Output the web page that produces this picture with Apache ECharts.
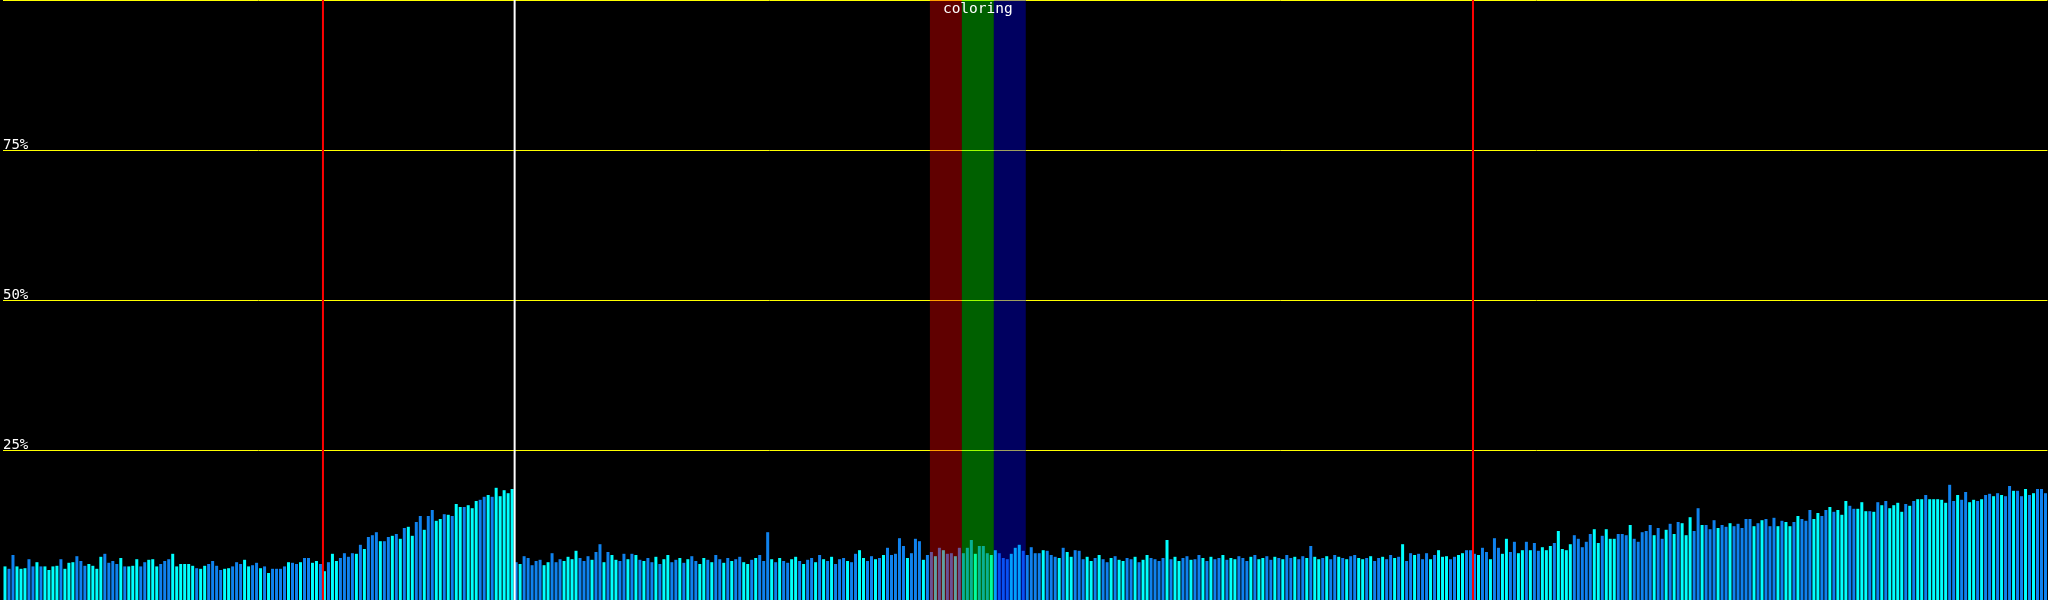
<!DOCTYPE html>
<html><head><meta charset="utf-8">
<script src="https://cdn.jsdelivr.net/npm/echarts@6/dist/echarts.min.js"></script>
<style>html,body{margin:0;padding:0;background:#000;overflow:hidden}#c{width:2048px;height:600px}</style>
</head><body><div id="c"></div>
<script>
// bar values (percent), 512 samples, 10 per row
const valueRows = [
  [5.6,5.2,7.5,5.6,5.2,5.3,6.8,5.6,6.3,5.6],
  [5.6,5.0,5.6,5.7,6.8,5.2,6.2,6.3,7.3,6.5],
  [5.7,6.0,5.7,5.2,7.2,7.7,6.2,6.5,6.0,7.0],
  [5.6,5.6,5.7,6.8,5.6,6.3,6.7,6.8,5.6,6.0],
  [6.5,6.8,7.7,5.6,6.0,6.0,6.0,5.7,5.3,5.2],
  [5.7,6.0,6.5,5.7,5.0,5.2,5.3,5.6,6.3,6.0],
  [6.7,5.6,5.8,6.2,5.3,5.6,4.5,5.2,5.2,5.2],
  [5.6,6.3,6.2,6.0,6.3,7.0,7.0,6.2,6.5,6.0],
  [4.8,6.3,7.7,6.5,7.0,7.8,7.2,7.8,7.7,9.2],
  [8.5,10.5,10.8,11.3,9.8,9.8,10.5,10.7,11.0,10.2],
  [12.0,12.2,10.7,13.0,14.0,11.7,14.0,15.0,13.2,13.5],
  [14.3,14.2,14.0,16.0,15.5,15.5,15.8,15.3,16.5,16.7],
  [17.2,17.5,17.2,18.7,17.3,18.3,17.8,18.5,6.3,6.0],
  [7.3,7.0,5.8,6.5,6.7,5.8,6.3,7.8,6.3,6.8],
  [6.5,7.2,6.8,8.2,7.0,6.5,7.3,6.7,8.0,9.3],
  [6.3,8.0,7.5,6.7,6.5,7.7,6.8,7.7,7.5,6.7],
  [6.5,7.0,6.3,7.2,6.0,6.8,7.5,6.3,6.7,7.0],
  [6.2,6.8,7.3,6.5,6.0,7.0,6.7,6.3,7.5,6.8],
  [6.2,7.0,6.5,6.8,7.2,6.3,6.0,6.7,7.0,7.5],
  [6.5,11.3,6.8,6.3,7.0,6.5,6.2,6.8,7.2,6.5],
  [6.0,6.7,7.0,6.3,7.5,6.8,6.5,7.2,6.0,6.8],
  [7.0,6.5,6.3,7.7,8.3,7.0,6.5,7.3,6.8,7.0],
  [7.5,8.7,7.5,7.7,10.3,9.0,7.0,7.8,10.2,9.8],
  [6.7,7.5,8.0,7.3,8.7,8.3,7.7,7.8,7.3,8.7],
  [7.8,8.7,10.0,7.7,9.0,9.0,7.8,7.5,8.3,7.8],
  [7.0,6.8,7.7,8.7,9.2,8.2,7.5,8.8,7.8,7.8],
  [8.3,8.2,7.5,7.2,7.0,8.7,8.0,7.2,8.3,8.2],
  [6.8,7.2,6.5,7.0,7.5,6.8,6.3,7.0,7.3,6.7],
  [6.5,7.0,6.8,7.2,6.3,6.7,7.5,7.0,6.8,6.5],
  [7.0,10.0,6.8,7.2,6.5,7.0,7.3,6.7,6.8,7.5],
  [7.0,6.5,7.2,6.8,7.0,7.5,6.7,7.0,6.8,7.3],
  [7.0,6.5,7.2,7.5,6.8,7.0,7.3,6.7,7.2,7.0],
  [6.8,7.5,7.0,7.2,6.8,7.3,7.0,9.0,7.2,6.8],
  [7.0,7.3,6.8,7.5,7.2,7.0,6.8,7.3,7.5,7.0],
  [6.8,7.0,7.3,6.5,7.0,7.2,6.8,7.5,7.0,7.2],
  [9.3,6.5,7.8,7.5,7.7,6.8,7.8,6.8,7.5,8.3],
  [7.2,7.3,6.8,7.2,7.5,7.8,8.3,8.3,7.7,7.5],
  [8.7,8.0,6.8,10.3,8.7,7.7,10.2,8.0,9.7,7.8],
  [8.3,9.7,8.3,9.5,8.2,8.8,8.3,9.0,9.5,11.5],
  [8.5,8.3,9.3,10.8,10.2,8.8,9.7,11.0,11.8,9.5],
  [10.7,11.8,10.2,10.2,11.0,11.0,10.8,12.5,10.2,9.7],
  [11.3,11.5,12.5,10.8,12.0,10.2,11.7,12.7,11.0,13.0],
  [12.8,10.8,13.8,11.5,15.3,12.5,12.5,11.8,13.3,12.0],
  [12.5,12.2,12.8,12.3,12.7,12.0,13.5,13.5,12.3,12.8],
  [13.3,13.5,12.3,13.7,12.3,13.2,13.0,12.3,13.0,14.0],
  [13.5,13.2,15.0,13.5,14.5,14.0,15.0,15.5,14.7,15.0],
  [14.2,16.5,15.7,15.2,15.2,16.3,14.8,14.8,14.7,16.3],
  [15.8,16.5,15.3,15.8,16.2,14.7,16.0,15.7,16.5,16.8],
  [16.8,17.5,16.8,16.8,16.8,16.7,16.2,19.2,16.5,17.5],
  [16.7,18.0,16.3,16.7,16.5,16.8,17.5,17.7,17.3,17.8],
  [17.5,17.3,19.0,18.2,18.2,17.3,18.5,17.5,17.8,18.5],
  [18.5,17.8]
];
// per-bar colour class, 10 per row: C = cyan, B = blue
const toneRows = [
  "CBBCCCBBCB","CCCCBCCCBB","BCCCCBBBBC","BCCCBBCCCB","BBCCCCCCBC",
  "CBBBBCCBBB","CCBBCBCBBB","BCBBCBBCCB","CBCCBBBBCB","CBBBCBBCBC",
  "BCCBBCBBCC","BCBCCBCCCB","BCBCCCCCBC","BBBBBCCBBB","CCCCBBBCBB",
  "CBCCBBCBCB","CBBCBCCBBC","BCBBCCBCBB","CBCBBCCBCB","BBCBCBBCCB",
  "CBBCBCBCBB","BCBBCCBBCB","CBBBBBCBBB","CBBCBCBBCB","BBBCBBBCCB",
  "BBCCCBBBBB","CBBBCBCCBB","BCCBCBBCBC","CBBCBCCBBB","BCBCCBBCBB",
  "CBCBBCBCCB","BBCBCCBBCB","CBBCBBCBCC","BCBBCBCBBC","CBCBBCBBCB",
  "CBBCBBBCBC","CCBBCCBBBC","BBCBBCCBBC","CBCBBCCCBC","CCCBBBBBCC",
  "BCCCBBBCBB","BBBCBBCBCB","CCCBBCBBBC","BBCBBBBBCB","CBBBCBCCBC",
  "BBBCCBBCBC","CCBBCCCBCB","CBCCCCBCBC","CBCCCCCBBC","BBCCBCBBCB",
  "CBBCBBCBCB","BB"
];
// vertical markers (sample index where they sit) and colour bands (sample index ranges)
const redMarks = [80, 368];
const whiteMarks = [128];
const bandStarts = [232, 240, 248];
const bandEnds = [240, 248, 256];
const bandColors = ['rgba(255,0,0,0.375)', 'rgba(0,255,0,0.375)', 'rgba(0,0,255,0.375)'];
const bandLabels = ['', 'coloring', ''];
const yTicks = [0, 25, 50, 75, 100];

const values = [].concat(...valueRows);
const tones = toneRows.join('').split('');
const CYAN = '#00ffff', BLUE = '#0f82ee';
const cats = values.map((v, i) => i);
const markerIdx = redMarks.concat(whiteMarks);
const markerCol = redMarks.map(() => '#ff0000').concat(whiteMarks.map(() => '#ffffff'));

function edgeX(api, idx) {
  // left boundary of a category band
  return api.coord([idx, 0])[0] - api.size([1, 0])[0] / 2;
}

const chart = echarts.init(document.getElementById('c'), null, {renderer: 'canvas'});
chart.setOption({
  backgroundColor: '#000',
  animation: false,
  grid: {left: -0.5, right: 0.5, top: 0, bottom: 0, containLabel: false},
  xAxis: {type: 'category', data: cats, show: false, boundaryGap: true},
  yAxis: {
    type: 'value', min: yTicks[0], max: yTicks[yTicks.length - 1], interval: 25,
    axisLine: {show: false}, axisTick: {show: false},
    splitLine: {show: true, showMinLine: false, lineStyle: {color: '#ffff00', width: 1}},
    axisLabel: {inside: true, margin: 0, showMinLabel: false, showMaxLabel: false,
      formatter: '{value}%', color: '#ffffff', fontFamily: 'DejaVu Sans Mono', fontSize: 14,
      lineHeight: 10, verticalAlign: 'bottom', align: 'left'}
  },
  series: [
    {
      type: 'bar', barWidth: 3, z: 2,
      data: values.map((v, i) => ({value: v, itemStyle: {color: tones[i] === 'C' ? CYAN : BLUE}}))
    },
    {
      type: 'custom', z: 10, silent: true, clip: false,
      data: bandStarts.map(s => [s, yTicks[yTicks.length - 1]]),
      renderItem: function (params, api) {
        const k = params.dataIndex;
        const x0 = edgeX(api, bandStarts[k]) + 0.5;
        const x1 = edgeX(api, bandEnds[k]) + 0.5;
        const yTop = api.coord([bandStarts[k], yTicks[yTicks.length - 1]])[1];
        const yBot = api.coord([bandStarts[k], yTicks[0]])[1];
        const children = [{type: 'rect', shape: {x: x0, y: yTop, width: x1 - x0, height: yBot - yTop},
          style: {fill: bandColors[k]}}];
        if (bandLabels[k]) {
          children.push({type: 'text', z2: 5, style: {text: bandLabels[k], x: (x0 + x1) / 2, y: yTop + 2,
            align: 'center', verticalAlign: 'top', fill: '#ffffff',
            font: '14.5px "DejaVu Sans Mono"'}});
        }
        return {type: 'group', children: children};
      }
    },
    {
      type: 'custom', z: 11, silent: true, clip: false,
      data: markerIdx.map(i => [i, yTicks[yTicks.length - 1]]),
      renderItem: function (params, api) {
        const k = params.dataIndex;
        const x = edgeX(api, markerIdx[k]);
        const yTop = api.coord([markerIdx[k], yTicks[yTicks.length - 1]])[1];
        const yBot = api.coord([markerIdx[k], yTicks[0]])[1];
        return {type: 'rect', shape: {x: x - 0.5, y: yTop, width: 2, height: yBot - yTop},
          style: {fill: markerCol[k]}};
      }
    }
  ]
});
</script></body></html>
